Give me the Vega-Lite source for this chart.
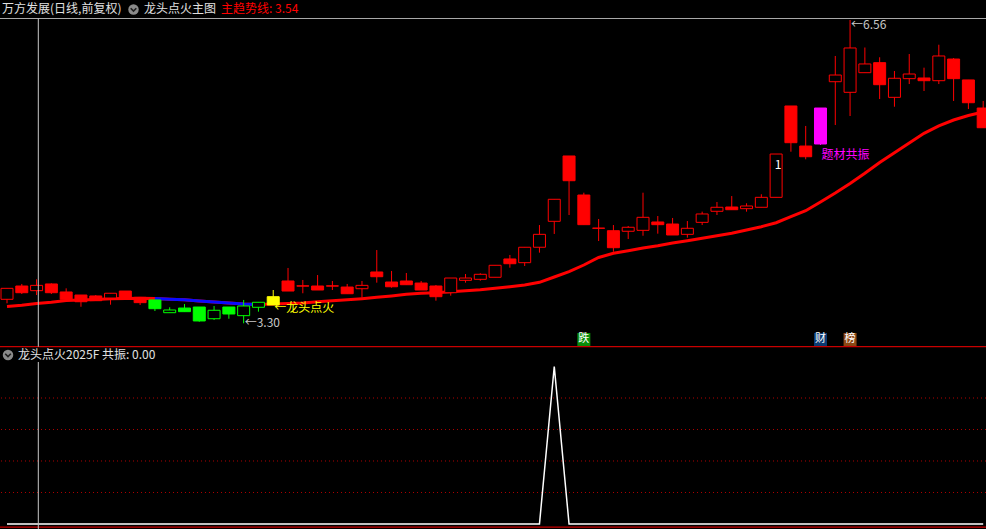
{
  "$schema": "https://vega.github.io/schema/vega-lite/v6.json",
  "width": 986,
  "height": 529,
  "padding": 0,
  "autosize": {"type": "none"},
  "background": "#000000",
  "config": {
    "view": {"stroke": null},
    "axis": {"disable": true},
    "legend": {"disable": true},
    "text": {"font": "Noto Sans CJK SC"}
  },
  "datasets": {
    "k": [
      {"i":0,"open":3.555,"high":3.673,"low":3.512,"close":3.673,"trend":3.478,"resonance":0,"state":"强势"},
      {"i":1,"open":3.698,"high":3.720,"low":3.612,"close":3.626,"trend":3.490,"resonance":0,"state":"强势"},
      {"i":2,"open":3.648,"high":3.770,"low":3.601,"close":3.705,"trend":3.510,"resonance":0,"state":"强势"},
      {"i":3,"open":3.720,"high":3.727,"low":3.612,"close":3.626,"trend":3.523,"resonance":0,"state":"强势"},
      {"i":4,"open":3.634,"high":3.673,"low":3.540,"close":3.555,"trend":3.542,"resonance":0,"state":"强势"},
      {"i":5,"open":3.601,"high":3.601,"low":3.475,"close":3.529,"trend":3.548,"resonance":0,"state":"强势"},
      {"i":6,"open":3.591,"high":3.601,"low":3.540,"close":3.540,"trend":3.553,"resonance":0,"state":"强势"},
      {"i":7,"open":3.569,"high":3.620,"low":3.497,"close":3.620,"trend":3.561,"resonance":0,"state":"强势"},
      {"i":8,"open":3.644,"high":3.644,"low":3.555,"close":3.566,"trend":3.564,"resonance":0,"state":"强势"},
      {"i":9,"open":3.576,"high":3.576,"low":3.494,"close":3.519,"trend":3.566,"resonance":0,"state":"强势"},
      {"i":10,"open":3.548,"high":3.548,"low":3.429,"close":3.454,"trend":3.563,"resonance":0,"state":"弱势"},
      {"i":11,"open":3.411,"high":3.469,"low":3.411,"close":3.440,"trend":3.556,"resonance":0,"state":"弱势"},
      {"i":12,"open":3.461,"high":3.504,"low":3.422,"close":3.422,"trend":3.550,"resonance":0,"state":"弱势"},
      {"i":13,"open":3.472,"high":3.472,"low":3.314,"close":3.322,"trend":3.537,"resonance":0,"state":"弱势"},
      {"i":14,"open":3.346,"high":3.483,"low":3.332,"close":3.437,"trend":3.526,"resonance":0,"state":"弱势"},
      {"i":15,"open":3.472,"high":3.472,"low":3.346,"close":3.397,"trend":3.515,"resonance":0,"state":"弱势"},
      {"i":16,"open":3.379,"high":3.548,"low":3.297,"close":3.483,"trend":3.504,"resonance":0,"state":"弱势"},
      {"i":17,"open":3.469,"high":3.523,"low":3.422,"close":3.523,"trend":3.499,"resonance":0,"state":"弱势"},
      {"i":18,"open":3.494,"high":3.655,"low":3.494,"close":3.583,"trend":3.504,"resonance":0,"state":"龙头点火"},
      {"i":19,"open":3.752,"high":3.892,"low":3.644,"close":3.644,"trend":3.510,"resonance":0,"state":"强势"},
      {"i":20,"open":3.700,"high":3.763,"low":3.620,"close":3.697,"trend":3.515,"resonance":0,"state":"强势"},
      {"i":21,"open":3.698,"high":3.816,"low":3.655,"close":3.655,"trend":3.529,"resonance":0,"state":"强势"},
      {"i":22,"open":3.700,"high":3.752,"low":3.655,"close":3.697,"trend":3.540,"resonance":0,"state":"强势"},
      {"i":23,"open":3.687,"high":3.720,"low":3.615,"close":3.615,"trend":3.551,"resonance":0,"state":"强势"},
      {"i":24,"open":3.669,"high":3.752,"low":3.572,"close":3.705,"trend":3.562,"resonance":0,"state":"强势"},
      {"i":25,"open":3.849,"high":4.085,"low":3.734,"close":3.798,"trend":3.576,"resonance":0,"state":"强势"},
      {"i":26,"open":3.741,"high":3.860,"low":3.680,"close":3.690,"trend":3.591,"resonance":0,"state":"强势"},
      {"i":27,"open":3.752,"high":3.838,"low":3.712,"close":3.712,"trend":3.609,"resonance":0,"state":"强势"},
      {"i":28,"open":3.730,"high":3.752,"low":3.655,"close":3.655,"trend":3.620,"resonance":0,"state":"强势"},
      {"i":29,"open":3.698,"high":3.709,"low":3.540,"close":3.583,"trend":3.626,"resonance":0,"state":"强势"},
      {"i":30,"open":3.626,"high":3.784,"low":3.594,"close":3.784,"trend":3.637,"resonance":0,"state":"强势"},
      {"i":31,"open":3.759,"high":3.827,"low":3.734,"close":3.784,"trend":3.648,"resonance":0,"state":"强势"},
      {"i":32,"open":3.770,"high":3.835,"low":3.755,"close":3.824,"trend":3.658,"resonance":0,"state":"强势"},
      {"i":33,"open":3.792,"high":3.921,"low":3.792,"close":3.921,"trend":3.673,"resonance":0,"state":"强势"},
      {"i":34,"open":3.989,"high":4.032,"low":3.895,"close":3.938,"trend":3.690,"resonance":0,"state":"强势"},
      {"i":35,"open":3.949,"high":4.115,"low":3.913,"close":4.115,"trend":3.709,"resonance":0,"state":"强势"},
      {"i":36,"open":4.115,"high":4.354,"low":4.057,"close":4.254,"trend":3.738,"resonance":0,"state":"强势"},
      {"i":37,"open":4.394,"high":4.631,"low":4.258,"close":4.631,"trend":3.795,"resonance":100,"state":"强势"},
      {"i":38,"open":5.097,"high":5.097,"low":4.462,"close":4.831,"trend":3.852,"resonance":0,"state":"强势"},
      {"i":39,"open":4.677,"high":4.702,"low":4.358,"close":4.358,"trend":3.924,"resonance":0,"state":"强势"},
      {"i":40,"open":4.321,"high":4.419,"low":4.182,"close":4.319,"trend":4.005,"resonance":0,"state":"强势"},
      {"i":41,"open":4.293,"high":4.354,"low":4.067,"close":4.110,"trend":4.050,"resonance":0,"state":"强势"},
      {"i":42,"open":4.287,"high":4.344,"low":4.204,"close":4.330,"trend":4.078,"resonance":0,"state":"强势"},
      {"i":43,"open":4.297,"high":4.702,"low":4.239,"close":4.437,"trend":4.107,"resonance":0,"state":"强势"},
      {"i":44,"open":4.387,"high":4.451,"low":4.261,"close":4.358,"trend":4.132,"resonance":0,"state":"强势"},
      {"i":45,"open":4.365,"high":4.430,"low":4.247,"close":4.247,"trend":4.161,"resonance":0,"state":"强势"},
      {"i":46,"open":4.254,"high":4.397,"low":4.218,"close":4.319,"trend":4.186,"resonance":0,"state":"强势"},
      {"i":47,"open":4.383,"high":4.498,"low":4.354,"close":4.473,"trend":4.211,"resonance":0,"state":"强势"},
      {"i":48,"open":4.502,"high":4.602,"low":4.462,"close":4.545,"trend":4.239,"resonance":0,"state":"强势"},
      {"i":49,"open":4.548,"high":4.666,"low":4.519,"close":4.519,"trend":4.265,"resonance":0,"state":"强势"},
      {"i":50,"open":4.530,"high":4.588,"low":4.498,"close":4.559,"trend":4.301,"resonance":0,"state":"强势"},
      {"i":51,"open":4.545,"high":4.685,"low":4.545,"close":4.652,"trend":4.336,"resonance":0,"state":"强势"},
      {"i":52,"open":4.652,"high":5.118,"low":4.652,"close":5.118,"trend":4.379,"resonance":0,"state":"强势"},
      {"i":53,"open":5.635,"high":5.635,"low":5.143,"close":5.240,"trend":4.444,"resonance":0,"state":"强势"},
      {"i":54,"open":5.204,"high":5.420,"low":5.061,"close":5.089,"trend":4.508,"resonance":0,"state":"强势"},
      {"i":55,"open":5.226,"high":5.613,"low":5.215,"close":5.613,"trend":4.602,"resonance":0,"state":"题材共振"},
      {"i":56,"open":5.896,"high":6.173,"low":5.430,"close":5.968,"trend":4.699,"resonance":0,"state":"强势"},
      {"i":57,"open":5.782,"high":6.560,"low":5.527,"close":6.259,"trend":4.801,"resonance":0,"state":"强势"},
      {"i":58,"open":5.993,"high":6.264,"low":5.993,"close":6.087,"trend":4.911,"resonance":0,"state":"强势"},
      {"i":59,"open":6.101,"high":6.159,"low":5.710,"close":5.864,"trend":5.027,"resonance":0,"state":"强势"},
      {"i":60,"open":5.728,"high":6.011,"low":5.627,"close":5.933,"trend":5.133,"resonance":0,"state":"强势"},
      {"i":61,"open":5.929,"high":6.194,"low":5.871,"close":5.979,"trend":5.237,"resonance":0,"state":"强势"},
      {"i":62,"open":5.936,"high":6.047,"low":5.796,"close":5.907,"trend":5.341,"resonance":0,"state":"强势"},
      {"i":63,"open":5.907,"high":6.294,"low":5.871,"close":6.173,"trend":5.420,"resonance":0,"state":"强势"},
      {"i":64,"open":6.140,"high":6.151,"low":5.689,"close":5.929,"trend":5.484,"resonance":0,"state":"强势"},
      {"i":65,"open":5.915,"high":5.915,"low":5.602,"close":5.670,"trend":5.533,"resonance":0,"state":"强势"},
      {"i":66,"open":5.613,"high":5.689,"low":5.401,"close":5.401,"trend":5.570,"resonance":0,"state":"强势"}
    ],
    "notes": [
      {"i":16,"price":3.297,"text":"←3.30","kind":"最低"},
      {"i":57,"price":6.56,"text":"←6.56","kind":"最高"},
      {"i":18,"price":3.465,"text":"←龙头点火","kind":"点火"},
      {"i":55,"price":5.108,"text":"题材共振","kind":"共振"},
      {"i":52,"price":5.0,"text":"1","kind":"连板"}
    ],
    "tags": [
      {"i":39,"tag":"跌"},
      {"i":55,"tag":"财"},
      {"i":57,"tag":"榜"}
    ],
    "grid": [{"level":20},{"level":40},{"level":60},{"level":80}]
  },
  "resolve": {"scale": {"y": "independent"}},
  "layer": [
    {
      "resolve": {"scale": {"color": "independent"}},
      "layer": [
        {
          "data": {"values": [{}]},
          "mark": {"type": "rule", "color": "#a8a8a8", "strokeWidth": 1},
          "encoding": {"y": {"datum": 6.576, "type": "quantitative", "scale": {"domain": [1.0837, 6.7752], "nice": false, "zero": false}}}
        },
        {
          "data": {"values": [{}]},
          "mark": {"type": "rule", "color": "#c80000", "strokeWidth": 1.2},
          "encoding": {"y": {"datum": 3.045, "type": "quantitative", "scale": {"domain": [1.0837, 6.7752], "nice": false, "zero": false}}}
        },
        {
          "data": {"name": "k"},
          "mark": {"type": "line", "color": "#ff0000", "strokeWidth": 3},
          "encoding": {
            "x": {"field": "i", "type": "quantitative", "scale": {"domain": [-0.4733, 66.19], "nice": false, "zero": false, "padding": 0}},
            "y": {"field": "trend", "type": "quantitative", "scale": {"domain": [1.0837, 6.7752], "nice": false, "zero": false}}
          }
        },
        {
          "data": {"name": "k"},
          "transform": [{"filter": "datum.i >= 10 && datum.i <= 17"}],
          "mark": {"type": "line", "color": "#0a0aff", "strokeWidth": 3},
          "encoding": {
            "x": {"field": "i", "type": "quantitative", "scale": {"domain": [-0.4733, 66.19], "nice": false, "zero": false, "padding": 0}},
            "y": {"field": "trend", "type": "quantitative", "scale": {"domain": [1.0837, 6.7752], "nice": false, "zero": false}}
          }
        },
        {
          "data": {"name": "k"},
          "mark": {"type": "rule", "strokeWidth": 1},
          "encoding": {
            "x": {"field": "i", "type": "quantitative", "scale": {"domain": [-0.4733, 66.19], "nice": false, "zero": false, "padding": 0}},
            "y": {"field": "low", "type": "quantitative", "scale": {"domain": [1.0837, 6.7752], "nice": false, "zero": false}},
            "y2": {"field": "high"},
            "stroke": {"field": "state", "type": "nominal", "scale": {"domain": ["强势", "弱势", "龙头点火", "题材共振"], "range": ["#ff0000", "#00ff00", "#ffff00", "#ff00ff"]}, "legend": null}
          }
        },
        {
          "data": {"name": "k"},
          "mark": {"type": "bar", "width": 12, "strokeWidth": 1, "fillOpacity": 1},
          "encoding": {
            "x": {"field": "i", "type": "quantitative", "scale": {"domain": [-0.4733, 66.19], "nice": false, "zero": false, "padding": 0}},
            "y": {"field": "open", "type": "quantitative", "scale": {"domain": [1.0837, 6.7752], "nice": false, "zero": false}},
            "y2": {"field": "close"},
            "stroke": {"field": "state", "type": "nominal", "scale": {"domain": ["强势", "弱势", "龙头点火", "题材共振"], "range": ["#ff0000", "#00ff00", "#ffff00", "#ff00ff"]}, "legend": null},
            "fill": {
              "condition": {"test": "datum.close > datum.open && (datum.state === '强势' || datum.state === '弱势')", "value": "#000000"},
              "field": "state", "type": "nominal",
              "scale": {"domain": ["强势", "弱势", "龙头点火", "题材共振"], "range": ["#ff0000", "#00ff00", "#ffff00", "#ff00ff"]},
              "legend": null
            }
          }
        },
        {
          "data": {"values": [{}]},
          "mark": {"type": "rule", "color": "#c8c8c8", "strokeWidth": 1},
          "encoding": {
            "x": {"datum": 2.116, "type": "quantitative", "scale": {"domain": [-0.4733, 66.19], "nice": false, "zero": false, "padding": 0}},
            "y": {"datum": 6.576, "type": "quantitative", "scale": {"domain": [1.0837, 6.7752], "nice": false, "zero": false}},
            "y2": {"datum": 3.045}
          }
        },
        {
          "data": {"name": "notes"},
          "transform": [{"filter": "datum.kind === '最低' || datum.kind === '点火' || datum.kind === '共振'"}],
          "mark": {"type": "text", "align": "left", "baseline": "middle", "fontSize": 12, "dx": 1},
          "encoding": {
            "x": {"field": "i", "type": "quantitative", "scale": {"domain": [-0.4733, 66.19], "nice": false, "zero": false, "padding": 0}},
            "y": {"field": "price", "type": "quantitative", "scale": {"domain": [1.0837, 6.7752], "nice": false, "zero": false}},
            "text": {"field": "text"},
            "color": {"field": "kind", "type": "nominal", "scale": {"domain": ["最低", "点火", "共振"], "range": ["#c8c8c8", "#ffff00", "#ff00ff"]}, "legend": null}
          }
        },
        {
          "data": {"name": "notes"},
          "transform": [{"filter": "datum.kind === '最高'"}],
          "mark": {"type": "text", "align": "left", "baseline": "top", "fontSize": 12, "dx": 1, "color": "#c8c8c8"},
          "encoding": {
            "x": {"field": "i", "type": "quantitative", "scale": {"domain": [-0.4733, 66.19], "nice": false, "zero": false, "padding": 0}},
            "y": {"field": "price", "type": "quantitative", "scale": {"domain": [1.0837, 6.7752], "nice": false, "zero": false}},
            "text": {"field": "text"}
          }
        },
        {
          "data": {"name": "notes"},
          "transform": [{"filter": "datum.kind === '连板'"}],
          "mark": {"type": "text", "align": "center", "baseline": "middle", "fontSize": 12, "dx": 2, "color": "#ffffff"},
          "encoding": {
            "x": {"field": "i", "type": "quantitative", "scale": {"domain": [-0.4733, 66.19], "nice": false, "zero": false, "padding": 0}},
            "y": {"field": "price", "type": "quantitative", "scale": {"domain": [1.0837, 6.7752], "nice": false, "zero": false}},
            "text": {"field": "text"}
          }
        },
        {
          "data": {"name": "tags"},
          "mark": {"type": "point", "shape": "square", "filled": true, "size": 169, "opacity": 1},
          "encoding": {
            "x": {"field": "i", "type": "quantitative", "scale": {"domain": [-0.4733, 66.19], "nice": false, "zero": false, "padding": 0}},
            "y": {"datum": 3.123, "type": "quantitative", "scale": {"domain": [1.0837, 6.7752], "nice": false, "zero": false}},
            "color": {"field": "tag", "type": "nominal", "scale": {"domain": ["跌", "财", "榜"], "range": ["#0a8c0a", "#0b3a72", "#8c4814"]}, "legend": null}
          }
        },
        {
          "data": {"name": "tags"},
          "mark": {"type": "text", "align": "center", "baseline": "middle", "fontSize": 11, "color": "#ffffff"},
          "encoding": {
            "x": {"field": "i", "type": "quantitative", "scale": {"domain": [-0.4733, 66.19], "nice": false, "zero": false, "padding": 0}},
            "y": {"datum": 3.123, "type": "quantitative", "scale": {"domain": [1.0837, 6.7752], "nice": false, "zero": false}},
            "text": {"field": "tag"}
          }
        },
        {
          "data": {"values": [{}]},
          "mark": {"type": "text", "align": "left", "baseline": "middle", "fontSize": 12, "color": "#e0e0e0", "text": "万方发展(日线,前复权)"},
          "encoding": {
            "x": {"datum": -0.338, "type": "quantitative", "scale": {"domain": [-0.4733, 66.19], "nice": false, "zero": false, "padding": 0}},
            "y": {"datum": 6.675, "type": "quantitative", "scale": {"domain": [1.0837, 6.7752], "nice": false, "zero": false}}
          }
        },
        {
          "data": {"values": [{}]},
          "mark": {"type": "point", "shape": "circle", "filled": true, "size": 110, "color": "#8a8a8a", "opacity": 1},
          "encoding": {
            "x": {"datum": 8.553, "type": "quantitative", "scale": {"domain": [-0.4733, 66.19], "nice": false, "zero": false, "padding": 0}},
            "y": {"datum": 6.673, "type": "quantitative", "scale": {"domain": [1.0837, 6.7752], "nice": false, "zero": false}}
          }
        },
        {
          "data": {"values": [{}]},
          "mark": {"type": "point", "shape": "M-0.8,-0.35L0,0.45L0.8,-0.35", "filled": false, "size": 49, "color": "#1e1e1e", "strokeWidth": 1.6, "opacity": 1},
          "encoding": {
            "x": {"datum": 8.553, "type": "quantitative", "scale": {"domain": [-0.4733, 66.19], "nice": false, "zero": false, "padding": 0}},
            "y": {"datum": 6.673, "type": "quantitative", "scale": {"domain": [1.0837, 6.7752], "nice": false, "zero": false}}
          }
        },
        {
          "data": {"values": [{}]},
          "mark": {"type": "text", "align": "left", "baseline": "middle", "fontSize": 12, "color": "#e0e0e0", "text": "龙头点火主图"},
          "encoding": {
            "x": {"datum": 9.263, "type": "quantitative", "scale": {"domain": [-0.4733, 66.19], "nice": false, "zero": false, "padding": 0}},
            "y": {"datum": 6.675, "type": "quantitative", "scale": {"domain": [1.0837, 6.7752], "nice": false, "zero": false}}
          }
        },
        {
          "data": {"values": [{}]},
          "mark": {"type": "text", "align": "left", "baseline": "middle", "fontSize": 12, "color": "#ff0000", "text": "主趋势线: 3.54"},
          "encoding": {
            "x": {"datum": 14.469, "type": "quantitative", "scale": {"domain": [-0.4733, 66.19], "nice": false, "zero": false, "padding": 0}},
            "y": {"datum": 6.675, "type": "quantitative", "scale": {"domain": [1.0837, 6.7752], "nice": false, "zero": false}}
          }
        }
      ]
    },
    {
      "layer": [
        {
          "data": {"name": "grid"},
          "mark": {"type": "rule", "color": "#b00000", "strokeWidth": 1, "strokeDash": [1, 3]},
          "encoding": {
            "y": {"field": "level", "type": "quantitative", "scale": {"domain": [-3.175, 332.7], "nice": false, "zero": false}}
          }
        },
        {
          "data": {"name": "k"},
          "mark": {"type": "line", "color": "#ffffff", "strokeWidth": 1.5},
          "encoding": {
            "x": {"field": "i", "type": "quantitative", "scale": {"domain": [-0.4733, 66.19], "nice": false, "zero": false, "padding": 0}},
            "y": {"field": "resonance", "type": "quantitative", "scale": {"domain": [-3.175, 332.7], "nice": false, "zero": false}}
          }
        },
        {
          "data": {"values": [{}]},
          "mark": {"type": "rule", "color": "#c80000", "strokeWidth": 1.2},
          "encoding": {"y": {"datum": -2.0, "type": "quantitative", "scale": {"domain": [-3.175, 332.7], "nice": false, "zero": false}}}
        },
        {
          "data": {"values": [{}]},
          "mark": {"type": "rule", "color": "#c8c8c8", "strokeWidth": 1},
          "encoding": {
            "x": {"datum": 2.116, "type": "quantitative", "scale": {"domain": [-0.4733, 66.19], "nice": false, "zero": false, "padding": 0}},
            "y": {"datum": 102.86, "type": "quantitative", "scale": {"domain": [-3.175, 332.7], "nice": false, "zero": false}},
            "y2": {"datum": -3.2}
          }
        },
        {
          "data": {"values": [{}]},
          "mark": {"type": "point", "shape": "circle", "filled": true, "size": 110, "color": "#8a8a8a", "opacity": 1},
          "encoding": {
            "x": {"datum": 0.0676, "type": "quantitative", "scale": {"domain": [-0.4733, 66.19], "nice": false, "zero": false, "padding": 0}},
            "y": {"datum": 107.3, "type": "quantitative", "scale": {"domain": [-3.175, 332.7], "nice": false, "zero": false}}
          }
        },
        {
          "data": {"values": [{}]},
          "mark": {"type": "point", "shape": "M-0.8,-0.35L0,0.45L0.8,-0.35", "filled": false, "size": 49, "color": "#1e1e1e", "strokeWidth": 1.6, "opacity": 1},
          "encoding": {
            "x": {"datum": 0.0676, "type": "quantitative", "scale": {"domain": [-0.4733, 66.19], "nice": false, "zero": false, "padding": 0}},
            "y": {"datum": 107.3, "type": "quantitative", "scale": {"domain": [-3.175, 332.7], "nice": false, "zero": false}}
          }
        },
        {
          "data": {"values": [{}]},
          "mark": {"type": "text", "align": "left", "baseline": "middle", "fontSize": 12, "color": "#e0e0e0", "text": "龙头点火2025F 共振: 0.00"},
          "encoding": {
            "x": {"datum": 0.7437, "type": "quantitative", "scale": {"domain": [-0.4733, 66.19], "nice": false, "zero": false, "padding": 0}},
            "y": {"datum": 107.3, "type": "quantitative", "scale": {"domain": [-3.175, 332.7], "nice": false, "zero": false}}
          }
        }
      ]
    }
  ]
}
